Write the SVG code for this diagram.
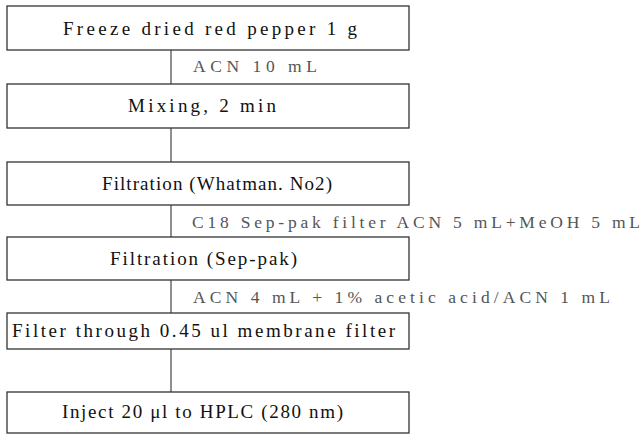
<svg xmlns="http://www.w3.org/2000/svg" width="642" height="435" viewBox="0 0 642 435">
<style>
.box{fill:#fff;stroke:#333;stroke-width:1.3}
.t{font-family:"Liberation Serif","DejaVu Serif",serif;font-size:19px;fill:#111}
.lbl{font-family:"Liberation Serif","DejaVu Serif",serif;font-size:17.5px;fill:#555}
.c{stroke:#444;stroke-width:1.2;fill:none}
</style>
<rect width="642" height="435" fill="#fff"/>
<g id="connectors">
<line class="c" x1="171" y1="50" x2="171" y2="84"/>
<line class="c" x1="171" y1="128" x2="171" y2="162"/>
<line class="c" x1="171" y1="205" x2="171" y2="237"/>
<line class="c" x1="171" y1="280" x2="171" y2="313"/>
<line class="c" x1="171" y1="349" x2="171" y2="392"/>
<text class="lbl" x="193" y="72" textLength="124" lengthAdjust="spacing">ACN 10 mL</text>
<text class="lbl" x="192" y="228" textLength="448" lengthAdjust="spacing">C18 Sep-pak filter ACN 5 mL+MeOH 5 mL</text>
<text class="lbl" x="193" y="303" textLength="417" lengthAdjust="spacing">ACN 4 mL + 1% acetic acid/ACN 1 mL</text>
</g>
<g id="n1">
<rect class="box" x="7" y="6" width="402" height="44"/>
<text class="t" x="63" y="35" textLength="294" lengthAdjust="spacing">Freeze dried red pepper 1 g</text>
</g>
<g id="n2">
<rect class="box" x="7" y="84" width="402" height="44"/>
<text class="t" x="128" y="112" textLength="148" lengthAdjust="spacing">Mixing, 2 min</text>
</g>
<g id="n3">
<rect class="box" x="7" y="162" width="402" height="43"/>
<text class="t" x="102" y="190" textLength="230" lengthAdjust="spacing">Filtration (Whatman. No2)</text>
</g>
<g id="n4">
<rect class="box" x="7" y="237" width="402" height="43"/>
<text class="t" x="110" y="265" textLength="187" lengthAdjust="spacing">Filtration (Sep-pak)</text>
</g>
<g id="n5">
<rect class="box" x="7" y="313" width="402" height="36"/>
<text class="t" x="12" y="337" textLength="383" lengthAdjust="spacing">Filter through 0.45 ul membrane filter</text>
</g>
<g id="n6">
<rect class="box" x="7" y="392" width="402" height="41"/>
<text class="t" x="62" y="418" textLength="281" lengthAdjust="spacing">Inject 20 μl to HPLC (280 nm)</text>
</g>
</svg>
